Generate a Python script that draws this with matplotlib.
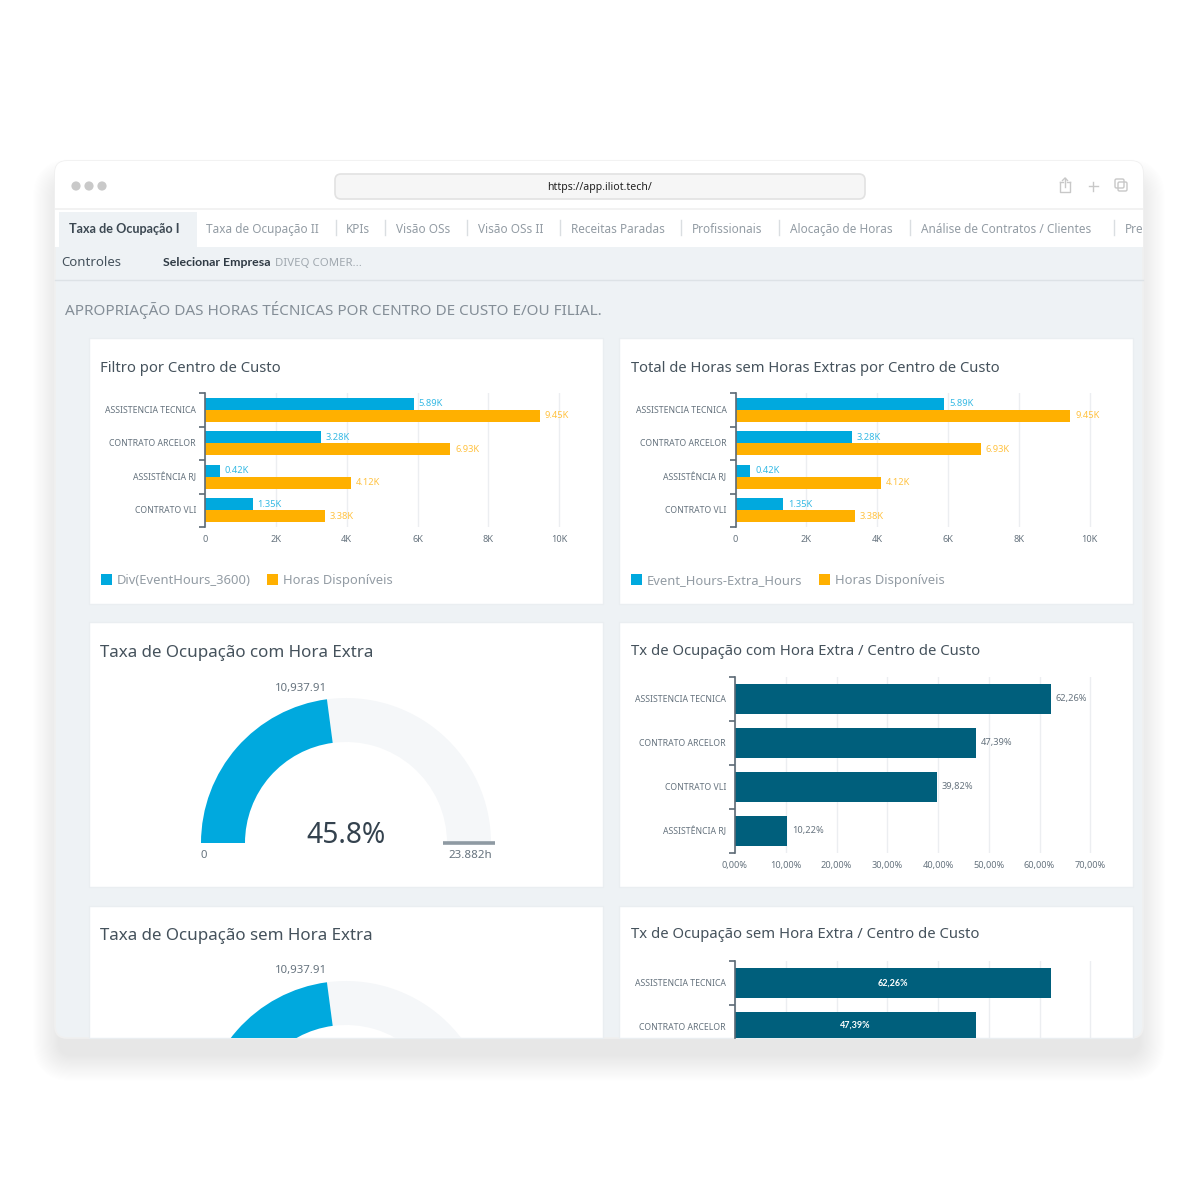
import matplotlib
matplotlib.use("Agg")
import numpy as np
import matplotlib.pyplot as plt
from matplotlib.patches import FancyBboxPatch, Rectangle, Circle, Wedge

plt.rcParams['font.family'] = ['Noto Sans', 'DejaVu Sans']

# --- data
cost_centers = ["ASSISTENCIA TECNICA", "CONTRATO ARCELOR", "ASSISTÊNCIA RJ", "CONTRATO VLI"]
event_hours = [5.89, 3.28, 0.42, 1.35]
available_hours = [9.45, 6.93, 4.12, 3.38]
hours_ticks = [0, 2, 4, 6, 8, 10]
hours_tick_labels = ["0", "2K", "4K", "6K", "8K", "10K"]

rate_centers = ["ASSISTENCIA TECNICA", "CONTRATO ARCELOR", "CONTRATO VLI", "ASSISTÊNCIA RJ"]
rate_values = [62.26, 47.39, 39.82, 10.22]
rate_ticks = [0, 10, 20, 30, 40, 50, 60, 70]
rate_tick_labels = ["0,00%", "10,00%", "20,00%", "30,00%", "40,00%", "50,00%", "60,00%", "70,00%"]

rate_centers_2 = ["ASSISTENCIA TECNICA", "CONTRATO ARCELOR"]
rate_values_2 = [62.26, 47.39]

gauge_value = 10937.91
gauge_max = 23882
gauge_pct = "45.8%"

tab_names = ["Taxa de Ocupação II", "KPIs", "Visão OSs", "Visão OSs II", "Receitas Paradas",
             "Profissionais", "Alocação de Horas", "Análise de Contratos / Clientes", "Pre"]
tab_x = [206, 346, 396, 478, 571, 692, 790, 921, 1125]
tab_sep_x = [336, 385, 467, 560, 681, 779, 910, 1114]

BLUE = "#00a9de"
ORANGE = "#ffb000"
TEAL = "#005f7c"
PAGE = "#eef2f5"
GREY = "#66737e"
TITLE = "#45525c"
GRID = "#eceef1"

fig = plt.figure(figsize=(12, 12), dpi=100, facecolor="white")

# background axes in screenshot pixels, everything around the charts goes here
bg = fig.add_axes([0, 0, 1, 1], zorder=0)
bg.set_xlim(0, 1200)
bg.set_ylim(1200, 0)
bg.axis("off")


def px_axes(x0, y0, x1, y1, zorder=2):
    ax = fig.add_axes([x0 / 1200, 1 - y1 / 1200, (x1 - x0) / 1200, (y1 - y0) / 1200], zorder=zorder)
    ax.patch.set_alpha(0)
    return ax


# soft shadow of the window, mostly below it
for i in range(24):
    grow = 26 - i * 1.1
    bg.add_patch(FancyBboxPatch((55 - grow + 4, 185 - grow), 1088 + 2 * grow - 8, 870 + 2 * grow,
                                boxstyle="round,pad=0,rounding_size=%d" % (grow + 14),
                                fc="#8a939c", ec="none", alpha=0.008))

# window
window = FancyBboxPatch((55, 161), 1088, 877, boxstyle="round,pad=0,rounding_size=12",
                        fc=PAGE, ec="#f0f0f0", lw=1.2)
bg.add_patch(window)
top = Rectangle((55, 161), 1088, 86, fc="white", ec="none")
bg.add_patch(top)
top.set_clip_path(window)
bg.plot([55, 1143], [208.5, 208.5], color="#f0f0f0", lw=1.2)
bg.plot([55, 1143], [279.5, 279.5], color="#dde2e6", lw=1)

for x in [76, 89, 102]:
    bg.add_patch(Circle((x, 186), 4.6, fc="#c9c9c9", ec="none"))
bg.add_patch(FancyBboxPatch((335, 174), 530, 25, boxstyle="round,pad=0,rounding_size=6",
                            fc="#f6f6f6", ec="#e2e2e2", lw=1.2))
bg.text(600, 190, "https://app.iliot.tech/", fontsize=7.6, color="#222222", ha="center", va="baseline")

# share / plus / tabs icons
icon = dict(color="#c8c8c8", lw=1)
bg.plot([1060, 1060, 1070, 1070], [182, 192, 192, 182], **icon)
bg.plot([1060, 1063], [182, 182], **icon)
bg.plot([1067, 1070], [182, 182], **icon)
bg.plot([1065, 1065], [178, 187], **icon)
bg.plot([1062.5, 1065, 1067.5], [180.5, 178, 180.5], **icon)
bg.plot([1088.5, 1097.5], [186, 186], **icon)
bg.plot([1093, 1093], [181.5, 190.5], **icon)
bg.add_patch(FancyBboxPatch((1115, 179), 9, 9, boxstyle="round,pad=0,rounding_size=1.5", fc="none", ec="#c8c8c8", lw=1))
bg.add_patch(FancyBboxPatch((1118, 182), 9, 9, boxstyle="round,pad=0,rounding_size=1.5", fc="none", ec="#c8c8c8", lw=1))

# tab strip
bg.add_patch(Rectangle((58.5, 212), 138, 35, fc=PAGE, ec="none"))
bg.text(69, 233, "Taxa de Ocupação I", fontsize=9.1, fontweight="bold", family=["Lato"], color="#3c4852", va="baseline")
for name, x in zip(tab_names, tab_x):
    t = bg.text(x, 233, name, fontsize=8.5, color="#939ca4", va="baseline")
    t.set_clip_path(window)
for x in tab_sep_x:
    bg.plot([x, x], [220, 235], color="#dadee1", lw=1)

bg.text(61.5, 266.5, "Controles", fontsize=9.5, color="#45525c", va="baseline")
bg.text(163, 266, "Selecionar Empresa", fontsize=8.9, fontweight="bold", family=["Lato"], color="#2f3a44", va="baseline")
bg.text(275, 266, "DIVEQ COMER...", fontsize=8.2, color="#a0a8af", va="baseline")
bg.text(65, 315, "APROPRIAÇÃO DAS HORAS TÉCNICAS POR CENTRO DE CUSTO E/OU FILIAL.",
        fontsize=11, color="#848e97", va="baseline")

# white panels
for x in [89, 619]:
    for y, h in [(338, 266), (622, 265), (906, 132)]:
        bg.add_patch(Rectangle((x, y), 514, h, fc="white", ec="#eaeef1", lw=1))

bg.text(100.5, 372, "Filtro por Centro de Custo", fontsize=10.7, color=TITLE, va="baseline")
bg.text(631, 372, "Total de Horas sem Horas Extras por Centro de Custo", fontsize=10.65, color=TITLE, va="baseline")
bg.text(100.5, 657, "Taxa de Ocupação com Hora Extra", fontsize=12.2, color=TITLE, va="baseline")
bg.text(631, 655, "Tx de Ocupação com Hora Extra / Centro de Custo", fontsize=10.7, color=TITLE, va="baseline")
bg.text(100.5, 940, "Taxa de Ocupação sem Hora Extra", fontsize=12.2, color=TITLE, va="baseline")
bg.text(631, 938, "Tx de Ocupação sem Hora Extra / Centro de Custo", fontsize=10.7, color=TITLE, va="baseline")


def style_hbar(ax, n, names):
    for s in ["top", "right", "bottom"]:
        ax.spines[s].set_visible(False)
    ax.spines["left"].set_color("#5c6a75")
    ax.spines["left"].set_linewidth(1.2)
    ax.grid(axis="x", color=GRID, lw=1)
    ax.set_axisbelow(True)
    # category labels sit between the ticks, ticks on the boundaries
    ax.set_yticks(np.arange(n + 1) - 0.5)
    ax.set_yticklabels([])
    ax.tick_params(axis="y", length=4.3, width=1.2, color="#5c6a75")
    ax.tick_params(axis="x", length=0, pad=6, labelsize=6.6, labelcolor=GREY)
    for i, name in enumerate(names):
        ax.annotate(name, (0, i), xytext=(-9, -3), textcoords="offset pixels", fontsize=6.25, color=GREY,
                    ha="right", va="baseline", annotation_clip=True)


def hours_chart(x_offset, series_name):
    ax = px_axes(205 + x_offset, 393, 573 + x_offset, 527)
    y = np.arange(len(cost_centers))
    bars_a = ax.barh(y - 0.176, event_hours, height=0.35, color=BLUE, label=series_name)
    bars_b = ax.barh(y + 0.176, available_hours, height=0.35, color=ORANGE, label="Horas Disponíveis")
    ax.set_xlim(0, 10.39)
    ax.set_ylim(3.5, -0.5)
    ax.set_xticks(hours_ticks)
    ax.set_xticklabels(hours_tick_labels)
    style_hbar(ax, len(cost_centers), cost_centers)
    ax.bar_label(bars_a, labels=["%.2fK" % v for v in event_hours], padding=3.5, fontsize=6.7, color="#35b9e4")
    ax.bar_label(bars_b, labels=["%.2fK" % v for v in available_hours], padding=3.5, fontsize=6.7, color="#ffc240")
    ax.legend(loc="lower left", bbox_to_anchor=((100.5 + x_offset) / 1200, 1 - 587 / 1200),
              bbox_transform=fig.transFigure, ncols=2, frameon=False, fontsize=9.35, labelcolor="#939ca4",
              handlelength=0.85, handleheight=0.85, handletextpad=0.38, columnspacing=1.3,
              borderaxespad=0, borderpad=0)
    return ax


hours_chart(0, "Div(EventHours_3600)")
hours_chart(530.5, "Event_Hours-Extra_Hours")

# occupancy rate with overtime, labels outside
ax = px_axes(735, 677, 1105, 853)
y = np.arange(len(rate_centers))
bars = ax.barh(y, rate_values, height=0.67, color=TEAL)
ax.set_xlim(0, 72.9)
ax.set_ylim(3.5, -0.5)
ax.set_xticks(rate_ticks)
ax.set_xticklabels(rate_tick_labels)
style_hbar(ax, len(rate_centers), rate_centers)
ax.bar_label(bars, labels=[("%.2f%%" % v).replace(".", ",") for v in rate_values], padding=3.5, fontsize=6.7,
             color=GREY)

# same chart without overtime, cut off by the bottom of the window
row_h = 43.9
ax = px_axes(735, 961, 1105, 1038)
y = np.arange(len(rate_centers_2))
bars = ax.barh(y, rate_values_2, height=0.67, color=TEAL)
ax.set_xlim(0, 72.9)
ax.set_xticks(rate_ticks)
style_hbar(ax, 2, rate_centers_2)
ax.set_yticks([-0.5, 0.5])
ax.tick_params(axis="x", labelbottom=False)
# ylim last, set_yticks widens the view otherwise
ax.set_ylim((1038 - 961) / row_h - 0.5, -0.5)
ax.bar_label(bars, labels=[("%.2f%%" % v).replace(".", ",") for v in rate_values_2], label_type="center",
             fontsize=6.5, color="white", fontweight="bold", family=["Lato"])


def gauge(top_y, center_y, show_bottom):
    # axes units are screenshot pixels around the gauge centre
    R, r = 145, 101
    bottom_y = min(center_y + 22, 1038)
    ax = px_axes(180, top_y, 515, bottom_y)
    ax.set_xlim(180 - 346, 515 - 346)
    ax.set_ylim(center_y - bottom_y, center_y - top_y)
    ax.axis("off")
    split = 180 * (1 - gauge_value / gauge_max)
    ax.add_patch(Wedge((0, 0), R, 0, split, width=R - r, fc="#f5f7f9", ec="none"))
    ax.add_patch(Wedge((0, 0), R, split, 180, width=R - r, fc=BLUE, ec="none"))
    bg.text(300.5, center_y - 152.5, "{:,.2f}".format(gauge_value), fontsize=8.2, color=GREY, ha="center", va="baseline")
    if show_bottom:
        ax.plot([97, 149], [0, 0], color="#8f9aa3", lw=2.6, solid_capstyle="butt")
        bg.text(204, center_y + 15, "0", fontsize=8.2, color=GREY, ha="center", va="baseline")
        bg.text(470, center_y + 15, "23.882h", fontsize=8.3, color=GREY, ha="center", va="baseline")
        bg.text(346, center_y, gauge_pct, fontsize=20.3, color="#34424e", ha="center", va="baseline")


gauge(690, 843, True)
gauge(974, 1126, False)

fig.savefig("out.png", dpi=100)
